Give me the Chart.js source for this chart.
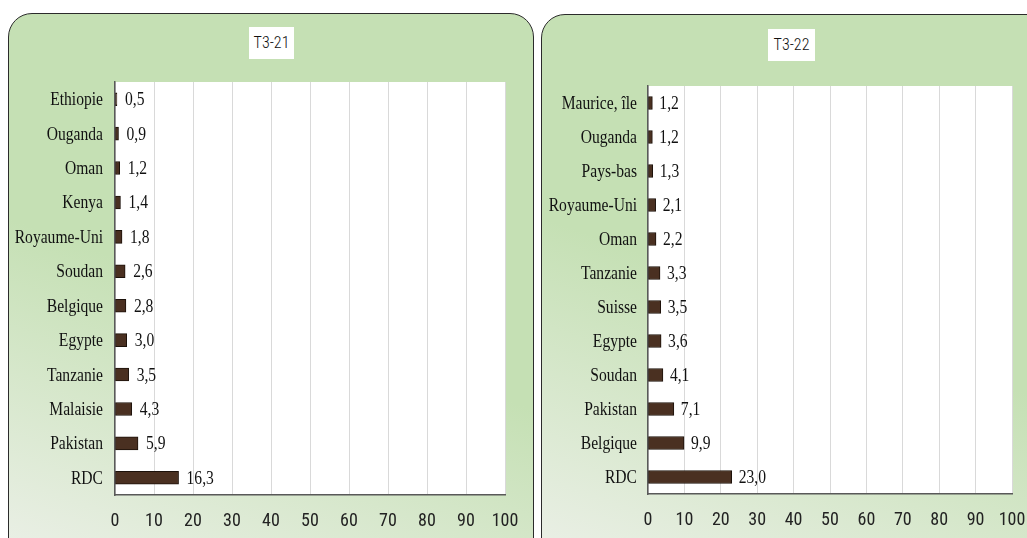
<!DOCTYPE html>
<html><head><meta charset="utf-8">
<script src="https://cdn.jsdelivr.net/npm/chart.js@4/dist/chart.umd.min.js"></script>
<style>
body{margin:0;width:1027px;height:538px;overflow:hidden;background:#fff;position:relative}
.panel{position:absolute;border:1px solid #2b2b2b;border-radius:24px;background:linear-gradient(200deg,#c5e0b4 0%,#c5e0b4 52%,#eef1eb 100%)}
#p1{left:8px;top:13px;width:524px;height:570px}
#p2{left:541px;top:14px;width:540px;height:570px}
.ttl{position:absolute;background:#fff;font:16px 'Roboto Condensed',sans-serif;font-weight:300;color:#111;text-align:center;line-height:32px;height:32px;white-space:nowrap}
#t1{left:249px;top:27px;width:45px}
#t2{left:768px;top:29px;width:47px}
canvas{position:absolute;top:0}
#c1{left:0}
#c2{left:541px}
.pre{position:absolute;left:-999px;top:0}
</style></head><body>
<div class="pre" style="font-family:'Liberation Serif'">Aa</div>
<div class="pre" style="font-family:'Roboto Condensed'">Aa</div>
<div class="panel" id="p1"></div>
<div class="panel" id="p2"></div>
<div class="ttl" id="t1">T3-21</div>
<div class="ttl" id="t2">T3-22</div>
<canvas id="c1" width="533" height="538"></canvas>
<canvas id="c2" width="486" height="538"></canvas>
<script>
const cats21=["Ethiopie","Ouganda","Oman","Kenya","Royaume-Uni","Soudan","Belgique","Egypte","Tanzanie","Malaisie","Pakistan","RDC"];
const vals21=[0.5,0.9,1.2,1.4,1.8,2.6,2.8,3.0,3.5,4.3,5.9,16.3];
const cats22=["Maurice, île","Ouganda","Pays-bas","Royaume-Uni","Oman","Tanzanie","Suisse","Egypte","Soudan","Pakistan","Belgique","RDC"];
const vals22=[1.2,1.2,1.3,2.1,2.2,3.3,3.5,3.6,4.1,7.1,9.9,23.0];
const xTicks=[0,10,20,30,40,50,60,70,80,90,100];

const SERIF="'Liberation Serif','Times New Roman',serif";
const NARROW="'Roboto Condensed',sans-serif";
const SQUEEZE=0.82; // the source font is a condensed Times

function narrowText(ctx,txt,x,y){
  ctx.save();ctx.translate(x,y);ctx.scale(SQUEEZE,1);ctx.fillText(txt,0,0);ctx.restore();
}
const plotBg={id:"plotBg",beforeDraw(chart){
  const a=chart.chartArea,ctx=chart.ctx;
  ctx.save();ctx.fillStyle="#fff";ctx.fillRect(a.left,a.top,a.right-a.left,a.bottom-a.top);ctx.restore();
}};
// category names and value labels, drawn condensed
const labels={id:"labels",afterDatasetsDraw(chart){
  const ctx=chart.ctx,meta=chart.getDatasetMeta(0),data=chart.data.datasets[0].data;
  const ys=chart.scales.y,o=chart.options.lbl;
  ctx.save();ctx.font="19px "+SERIF;ctx.fillStyle="#111";ctx.textBaseline="middle";
  ctx.textAlign="right";
  chart.data.labels.forEach((c,i)=>narrowText(ctx,c,ys.right-o.pad,ys.getPixelForValue(i)+1));
  ctx.textAlign="left";
  meta.data.forEach((b,i)=>narrowText(ctx,data[i].toFixed(1).replace(".",","),b.x+o.off,b.y+1));
  ctx.restore();
}};

function mk(id,cats,vals,o){
  return new Chart(document.getElementById(id),{
    type:"bar",
    data:{labels:cats,datasets:[{data:vals,backgroundColor:"#4a3021",borderColor:"#1c110a",borderWidth:1,barThickness:13,borderSkipped:false}]},
    options:{
      responsive:false,animation:false,indexAxis:"y",lbl:{pad:o.pad,off:o.off},
      layout:{padding:{top:o.top,right:o.right,left:0,bottom:0}},
      plugins:{legend:{display:false},tooltip:{enabled:false}},
      scales:{
        x:{min:0,max:100,afterBuildTicks:s=>{s.ticks=xTicks.map(v=>({value:v}));},
          grid:{color:"#d9d9d9",drawTicks:false},border:{color:"#595959",width:1.5},
          ticks:{color:"#222",font:{family:NARROW,size:18},padding:16,maxRotation:0,minRotation:0,autoSkip:false},
          afterFit:s=>{s.height=o.xh;s.paddingLeft=0;s.paddingRight=0;}},
        y:{grid:{display:false},border:{color:"#595959",width:1.5},
          ticks:{display:false},
          afterFit:s=>{s.width=o.yw;}}
      }
    },
    plugins:[plotBg,labels]
  });
}
function draw(){
  mk("c1",cats21,vals21,{top:82,right:28,xh:43,yw:115,pad:12,off:8});
  mk("c2",cats22,vals22,{top:86,right:15,xh:44,yw:107,pad:11,off:7});
}
Promise.all([document.fonts.load("19px 'Liberation Serif'"),document.fonts.load("18px 'Roboto Condensed'")]).then(draw,draw);
</script>
</body></html>
